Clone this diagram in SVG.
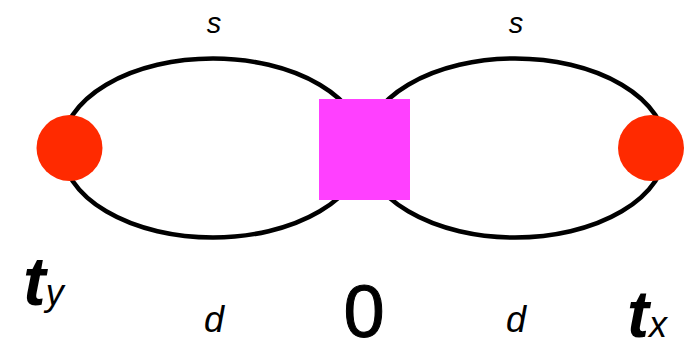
<svg xmlns="http://www.w3.org/2000/svg" width="696" height="352" viewBox="0 0 696 352">
<style>
.edge{fill:none;stroke:#000;stroke-width:4.5}
.lbl{font-family:"Liberation Sans",Arial,sans-serif;font-style:italic;text-anchor:middle;fill:#000}
.big{font-family:"Liberation Sans",Arial,sans-serif;fill:#000}
.term{fill:#FF2A00}
</style>
<rect width="696" height="352" fill="#fff"/>
<g id="connectors">
<ellipse class="edge" cx="213" cy="148" rx="151" ry="89.5"/>
<ellipse class="edge" cx="515" cy="148" rx="151" ry="89.5"/>
</g>
<g id="node-center">
<rect x="319" y="99" width="91" height="101" fill="#FF40FF"/>
<text class="big" x="364" y="337" font-size="74" text-anchor="middle" stroke="#000" stroke-width="1">0</text>
</g>
<g id="node-ty">
<circle class="term" cx="69.5" cy="148" r="33"/>
<text class="big" x="23" y="305" font-size="68" font-weight="bold" font-style="italic">t<tspan font-size="36" font-weight="normal">y</tspan></text>
</g>
<g id="node-tx">
<circle class="term" cx="651" cy="148" r="33"/>
<text class="big" x="627" y="337" font-size="66" font-weight="bold" font-style="italic">t<tspan font-size="36" font-weight="normal">x</tspan></text>
</g>
<g id="labels">
<text class="lbl" x="214" y="33" font-size="29">s</text>
<text class="lbl" x="516" y="33" font-size="29">s</text>
<text class="lbl" x="214" y="332" font-size="36">d</text>
<text class="lbl" x="516" y="332" font-size="36">d</text>
</g>
</svg>
